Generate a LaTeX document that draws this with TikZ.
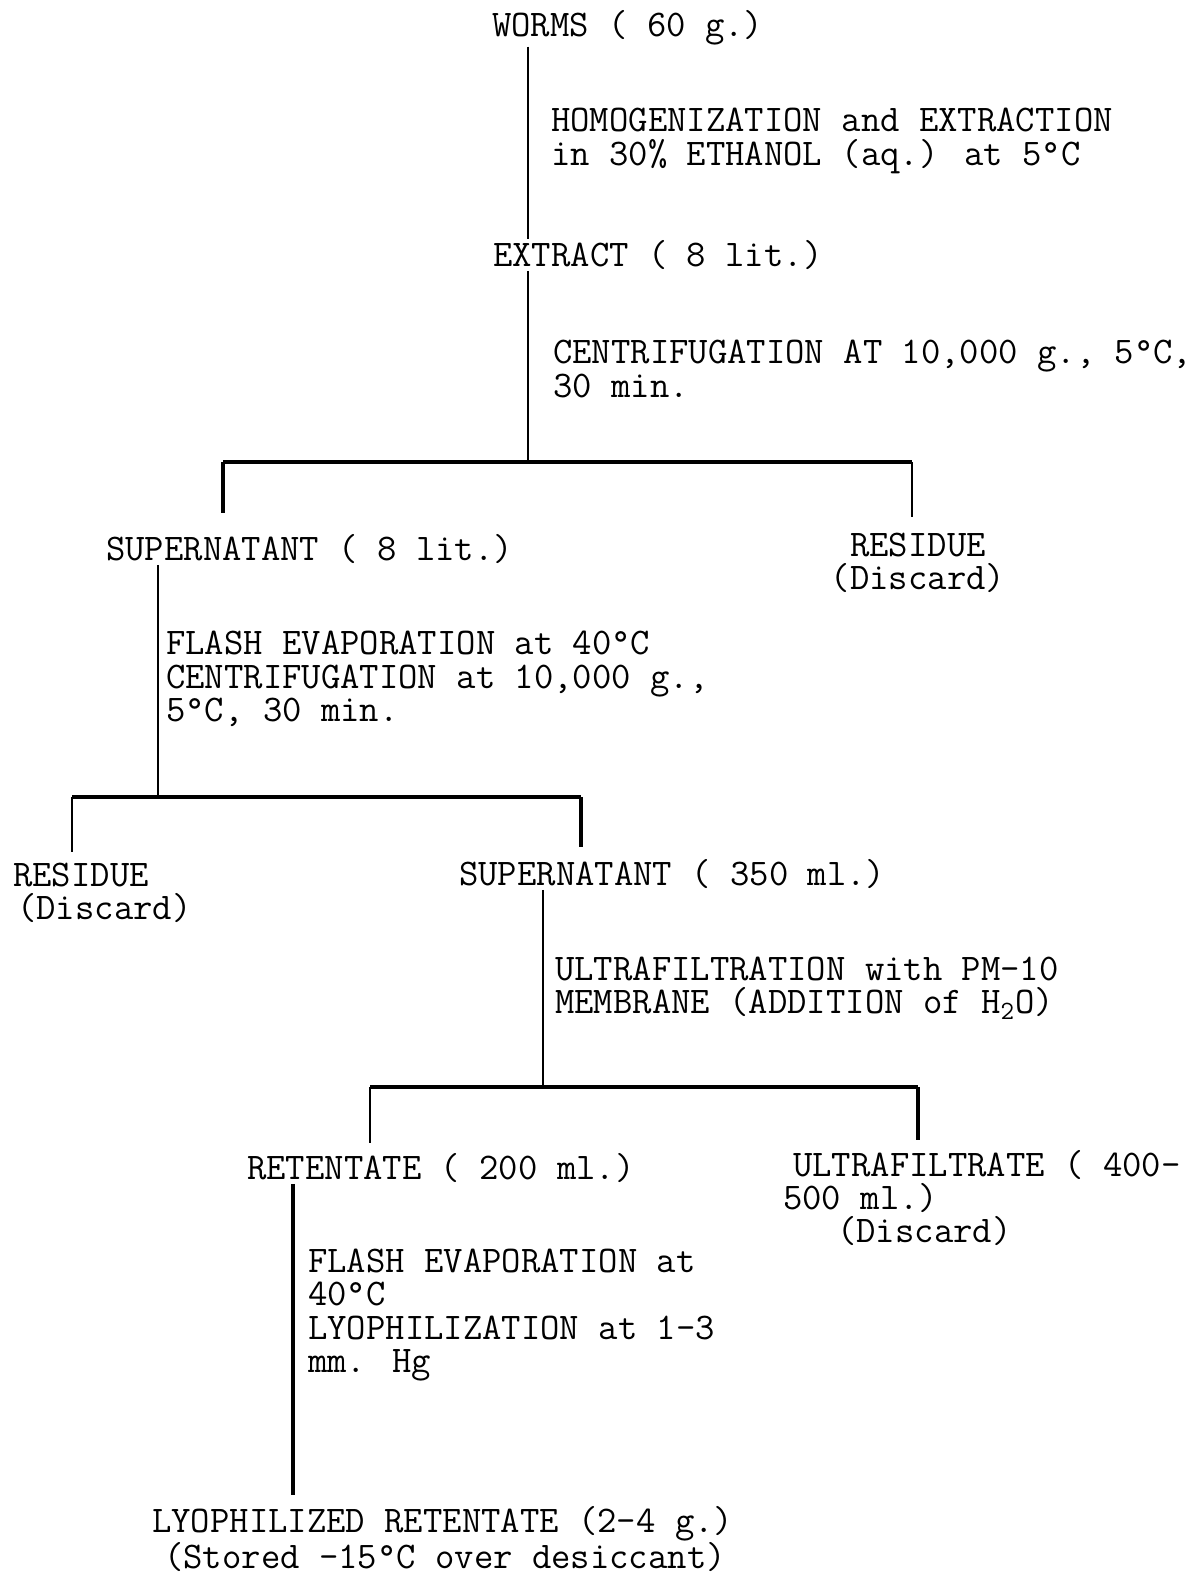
\documentclass[tikz,border=0pt]{standalone}
\usepackage{fontspec}
\newcommand{\twfont}{\ttfamily\fontsize{21.4}{19}\selectfont}

\begin{document}
\begin{tikzpicture}[x=0.02cm, y=-0.02cm,
  lbl/.style={anchor=west, inner sep=0.5pt, align=left, font=\twfont},
  stem/.style={line width=1.1pt},
  bar/.style={line width=2pt},
  thindrop/.style={line width=0.9pt},
  thickdrop/.style={line width=1.8pt}]
\useasboundingbox (0,0) rectangle (1194,1576);
% steps and products
\node[lbl] (worms) at (491,28) {WORMS ( 60 g.)};
\node[lbl] (homog) at (550,141) {HOMOGENIZATION and EXTRACTION\\in 30\% ETHANOL (aq.) at 5°C};
\node[lbl] (extract) at (492,255) {EXTRACT ( 8 lit.)};
\node[lbl] (centrif) at (552,369) {CENTRIFUGATION AT 10,000 g., 5°C,\\30 min.};
\node[lbl] (super1) at (105,549) {SUPERNATANT ( 8 lit.)};
\node[lbl, align=center, anchor=center] (res1) at (918,563) {RESIDUE\\(Discard)};
\node[lbl] (flash1) at (165,679) {FLASH EVAPORATION at 40°C\\CENTRIFUGATION at 10,000 g.,\\5°C, 30 min.};
\node[lbl] (res2) at (12,893) {RESIDUE\\\hspace*{0.08cm}(Discard)};
\node[lbl] (super2) at (458,874) {SUPERNATANT ( 350 ml.)};
\node[lbl] (ultra) at (554,988) {ULTRAFILTRATION with PM-10\\MEMBRANE (ADDITION of H\textsubscript{2}O)};
\node[lbl] (retent) at (246,1168) {RETENTATE ( 200 ml.)};
\node[lbl] (filtr) at (782,1198) {\hspace*{0.2cm}ULTRAFILTRATE ( 400-\\500 ml.)\\\hspace*{1.08cm}(Discard)};
\node[lbl] (flash2) at (307,1315) {FLASH EVAPORATION at\\40°C\\LYOPHILIZATION at 1-3\\mm. Hg};
\node[lbl] (lyo) at (151,1539) {LYOPHILIZED RETENTATE (2-4 g.)\\\hspace*{0.24cm}(Stored -15°C over desiccant)};
% split points
\coordinate (b1) at (528,462);
\coordinate (b1l) at (223,462);
\coordinate (b1r) at (912,462);
\coordinate (d1l) at (223,513);
\coordinate (d1r) at (912,517);
\coordinate (b2) at (158,797);
\coordinate (b2l) at (72,797);
\coordinate (b2r) at (581,797);
\coordinate (d2l) at (72,852);
\coordinate (d2r) at (581,847);
\coordinate (b3) at (543,1087);
\coordinate (b3l) at (370,1087);
\coordinate (b3r) at (918,1087);
\coordinate (d3l) at (370,1143);
\coordinate (d3r) at (918,1140);
\coordinate (s5) at (293,1186);
% connectors
\draw[stem] (worms.south -| b1) -- (extract.north -| b1);
\draw[stem] (extract.south -| b1) -- (b1);
\draw[bar] (b1l) -- (b1r);
\draw[thickdrop] (b1l) -- (d1l);
\draw[thindrop] (b1r) -- (d1r);
\draw[stem] (super1.south -| b2) -- (b2);
\draw[bar] (b2l) -- (b2r);
\draw[thindrop] (b2l) -- (d2l);
\draw[thickdrop] (b2r) -- (d2r);
\draw[stem] (super2.south -| b3) -- (b3);
\draw[bar] (b3l) -- (b3r);
\draw[thindrop] (b3l) -- (d3l);
\draw[thickdrop] (b3r) -- (d3r);
\draw[line width=1.8pt, shorten >=0.2cm] (retent.south -| s5) -- (lyo.north -| s5);
\end{tikzpicture}
\end{document}
